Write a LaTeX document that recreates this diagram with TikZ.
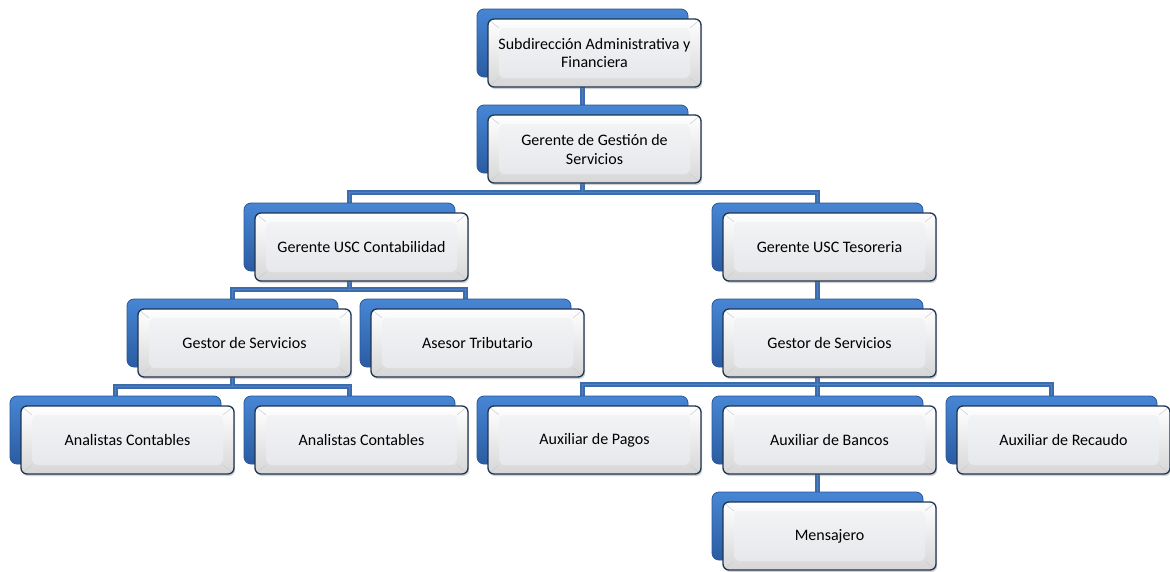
\documentclass[tikz,border=0pt]{standalone}
\usepackage{fontspec}
\setmainfont{Carlito}
\usetikzlibrary{shadows,backgrounds,calc}

\definecolor{backtop}{HTML}{4786D4}
\definecolor{backbot}{HTML}{2A5CA2}
\definecolor{backedge}{HTML}{2A5896}
\definecolor{frontedge}{HTML}{1E3552}
\definecolor{facetop}{HTML}{F2F3F5}
\definecolor{facebot}{HTML}{E6E8EB}
\definecolor{bevelline}{HTML}{C9CCD1}
\definecolor{conout}{HTML}{3A6CAE}
\definecolor{conin}{HTML}{4E80C2}

\tikzset{
  backbox/.style={rectangle, rounded corners=7pt, minimum width=211pt,
    minimum height=68pt, inner sep=0pt, top color=backtop,
    bottom color=backbot, draw=backedge, line width=0.8pt},
  frontbox/.style={rectangle, rounded corners=6pt, minimum width=213pt,
    minimum height=68pt, inner sep=0pt, top color=white,
    bottom color=black!16, draw=frontedge, line width=1.3pt,
    drop shadow={shadow xshift=1.2pt, shadow yshift=-2pt, opacity=0.35},
    text=black, font=\fontsize{16pt}{19pt}\selectfont, align=center,
    path picture={
      \coordinate (pbsw) at (path picture bounding box.south west);
      \coordinate (pbne) at (path picture bounding box.north east);
      \coordinate (pbnw) at (path picture bounding box.north west);
      \coordinate (pbse) at (path picture bounding box.south east);
      \shade[top color=facetop, bottom color=facebot]
        ([xshift=11pt,yshift=9pt]pbsw) rectangle ([xshift=-11pt,yshift=-9pt]pbne);
      \draw[bevelline, line width=0.5pt]
        (pbsw) -- ([xshift=11pt,yshift=9pt]pbsw)
        (pbse) -- ([xshift=-11pt,yshift=9pt]pbse)
        (pbne) -- ([xshift=-11pt,yshift=-9pt]pbne)
        (pbnw) -- ([xshift=11pt,yshift=-9pt]pbnw);
    }},
  connouter/.style={draw=conout, line width=5pt},
  conninner/.style={draw=conin, line width=1.4pt},
}

% one unit: blue back plate with a bevelled card in front of it
% #1 name, #2 left edge, #3 top edge of the plate, #4 text
\newcommand\orgunit[4]{%
  \node[backbox] (#1-b) at ({#2+105.5},{#3+34}) {};
  \node[frontbox] (#1) at ({#2+11+106.5},{#3+10+34}) {#4};
}

% the reporting lines, drawn once wide and once narrow
\newcommand\orglinks[1]{%
  \draw[#1] (top-b.center) -- (gest-b.center);
  \draw[#1] (gest-b.center) |- ([yshift=10pt]cont-b.north) -- (cont-b.center);
  \draw[#1] (gest-b.center) |- ([yshift=10pt]teso-b.north) -- (teso-b.center);
  \draw[#1] (cont-b.center) |- ([yshift=9pt]gesl-b.north) -- (gesl-b.center);
  \draw[#1] (cont-b.center) |- ([yshift=9pt]ases-b.north) -- (ases-b.center);
  \draw[#1] (teso-b.center) -- (gesr-b.center);
  \draw[#1] (gesl-b.center) |- ([yshift=9pt]ana1-b.north) -- (ana1-b.center);
  \draw[#1] (gesl-b.center) |- ([yshift=9pt]ana2-b.north) -- (ana2-b.center);
  \draw[#1] (gesr-b.center) |- ([yshift=11pt]pago-b.north) -- (pago-b.center);
  \draw[#1] (gesr-b.center) |- ([yshift=11pt]banc-b.north) -- (banc-b.center);
  \draw[#1] (gesr-b.center) |- ([yshift=11pt]reca-b.north) -- (reca-b.center);
  \draw[#1] (banc-b.center) -- (mens-b.center);
}

\begin{document}
\begin{tikzpicture}[x=1pt, y=-1pt]
  \useasboundingbox (0,0) rectangle (1170,571);

  \orgunit{top}{477}{9}{Subdirección Administrativa y\\Financiera}
  \orgunit{gest}{477}{105}{Gerente de Gestión de\\Servicios}
  \orgunit{cont}{244}{203}{Gerente USC Contabilidad}
  \orgunit{teso}{712}{203}{Gerente USC Tesoreria}
  \orgunit{gesl}{127}{299}{Gestor de Servicios}
  \orgunit{ases}{360}{299}{Asesor Tributario}
  \orgunit{gesr}{712}{299}{Gestor de Servicios}
  \orgunit{ana1}{10}{396}{Analistas Contables}
  \orgunit{ana2}{244}{396}{Analistas Contables}
  \orgunit{pago}{477}{396}{Auxiliar de Pagos}
  \orgunit{banc}{712}{396}{Auxiliar de Bancos}
  \orgunit{reca}{946}{396}{Auxiliar de Recaudo}
  \orgunit{mens}{712}{492}{Mensajero}

  \begin{pgfonlayer}{background}
    \fill[white] (0,0) rectangle (1170,571);
    \orglinks{connouter}
    \orglinks{conninner}
  \end{pgfonlayer}
\end{tikzpicture}
\end{document}
